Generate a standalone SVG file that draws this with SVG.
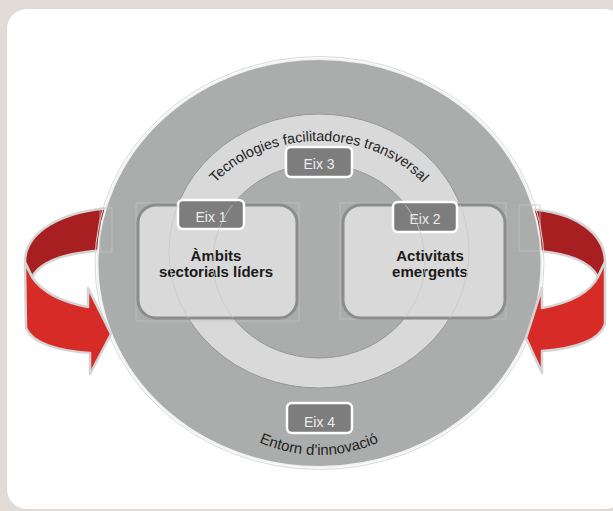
<svg xmlns="http://www.w3.org/2000/svg" width="613" height="511" viewBox="0 0 613 511">
<defs>
<style>
.lbl{fill:#7d7d7d;stroke:#ffffff;stroke-width:2.5}
.lt{font-family:"Liberation Sans",Arial,sans-serif;font-size:14px;fill:#ececec;text-anchor:middle}
.box{fill:#d9d9d9;stroke:#8c8c8c;stroke-width:3}
.bt{font-family:"Liberation Sans",Arial,sans-serif;font-size:15px;font-weight:bold;fill:#1a1a1a;text-anchor:middle}
.arc{font-family:"Liberation Sans",Arial,sans-serif;font-size:14.3px;fill:#222222}
.faint{fill:none;stroke:#c4c4c4;stroke-width:0.7}
.ar{stroke:#d4d4d4;stroke-width:2.5;stroke-linejoin:round}
.dk{fill:#a81f22}
.rd{fill:#d62b27}
</style>
<path id="topArc" d="M187,251 A132,110 0 0 1 451,251"/>
<path id="botArc" d="M152,263 A167,192 0 0 0 486,263"/>
<clipPath id="boxClip">
<rect x="138" y="205" width="159" height="113" rx="18"/>
<rect x="343" y="205" width="162" height="113" rx="18"/>
</clipPath>
</defs>
<rect x="0" y="0" width="613" height="511" fill="#e0dbd6"/>
<rect x="7" y="9" width="618" height="500" rx="20" fill="#ffffff"/>
<g id="arrows-back">
<path class="dk ar" d="M115,208 C62,210 25,232 25,262 L32,277 C42,259 70,251 115,250 Z"/>
<path class="dk ar" d="M525,209 C578,211 605,235 605,262 L598,277 C590,262 570,252 525,250 Z"/>
</g>
<g id="disc">
<ellipse cx="319.5" cy="263" rx="224.5" ry="206.5" fill="none" stroke="#d8d8d8" stroke-width="1"/>
<ellipse cx="319.5" cy="263" rx="222" ry="204" fill="#abadac" stroke="#f2f2f2" stroke-width="2"/>
</g>
<g id="connectors">
<path class="rd ar" d="M25,263 L32,277 C42,292 62,302 88,307 L88,288 L111,334 L90,374 L90,353 C58,351 32,343 26,328 Z"/>
<path class="rd ar" d="M605,262 L598,277 C590,292 570,303 542,308 L542,288 L526,338 L542,373 L542,351 C575,349 600,340 605,324 Z"/>
<rect class="faint" x="100" y="208" width="12" height="44"/>
<rect class="faint" x="519" y="205" width="21" height="46"/>
</g>
<g id="ring">
<ellipse cx="319" cy="251" rx="150" ry="137" fill="#d9d9d9" stroke="#979797" stroke-width="1"/>
<ellipse cx="319" cy="261" rx="106" ry="97" fill="#abadac" stroke="#979797" stroke-width="1"/>
<text class="arc"><textPath href="#topArc" startOffset="50%" text-anchor="middle">Tecnologies facilitadores transversal</textPath></text>
</g>
<g id="eix1">
<rect class="faint" x="136" y="203" width="163" height="118"/>
<rect class="box" x="138" y="205" width="159" height="113" rx="18"/>
<rect class="lbl" x="178" y="200" width="66" height="29" rx="5"/>
<text class="lt" x="211" y="222">Eix 1</text>
<text class="bt" x="216" y="261">Àmbits</text>
<text class="bt" x="216" y="277">sectorials líders</text>
</g>
<g id="eix2">
<rect class="faint" x="340" y="203" width="166" height="116"/>
<rect class="box" x="343" y="205" width="162" height="113" rx="18"/>
<rect class="lbl" x="393" y="202" width="64" height="30" rx="5"/>
<text class="lt" x="425" y="224">Eix 2</text>
<text class="bt" x="430" y="261">Activitats</text>
<text class="bt" x="430" y="277">emergents</text>
</g>
<g clip-path="url(#boxClip)" fill="none" stroke="#c8c8c8" stroke-width="0.8">
<ellipse cx="319" cy="251" rx="150" ry="137"/>
<ellipse cx="319" cy="261" rx="106" ry="97"/>
</g>
<g id="eix3">
<rect class="lbl" x="286" y="147" width="66" height="30" rx="5"/>
<text class="lt" x="319" y="169">Eix 3</text>
</g>
<g id="eix4">
<rect class="lbl" x="287" y="403" width="65" height="30" rx="5"/>
<text class="lt" x="319.5" y="427">Eix 4</text>
<text class="arc" style="font-size:15px"><textPath href="#botArc" startOffset="50%" text-anchor="middle">Entorn d’innovació</textPath></text>
</g>
</svg>
